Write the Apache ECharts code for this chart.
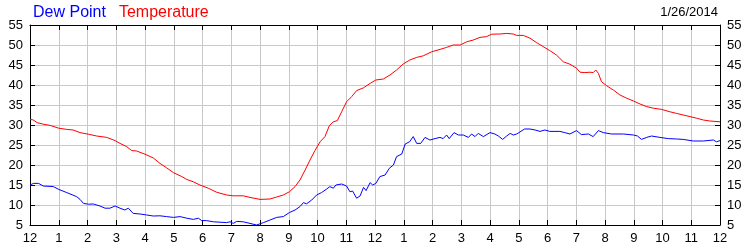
<!DOCTYPE html>
<html>
<head>
<meta charset="utf-8">
<script src="https://cdn.jsdelivr.net/npm/echarts@6/dist/echarts.min.js"></script>
<style>html,body{margin:0;padding:0;background:#fff}#c{width:750px;height:250px}</style>
</head>
<body>
<div id="c"></div>
<script>
var seriesNames = ['Dew Point', 'Temperature'];
var dateLabel = '1/26/2014';
var hourTicks = ['12','1','2','3','4','5','6','7','8','9','10','11','12','1','2','3','4','5','6','7','8','9','10','11','12'];

var tempHours = [0.0,0.1,0.25,0.46,0.7,1.0,1.28,1.5,1.74,2.03,2.32,2.67,2.96,3.13,3.36,3.54,3.71,4.0,4.29,4.52,4.75,4.99,5.28,5.45,5.68,5.91,6.2,6.49,6.84,7.07,7.42,7.65,8.0,8.35,8.58,8.81,9.02,9.22,9.39,9.57,9.74,9.91,10.09,10.26,10.41,10.55,10.69,10.84,11.01,11.19,11.36,11.6,11.83,12.03,12.29,12.52,12.75,12.98,13.21,13.45,13.68,13.97,14.26,14.49,14.72,14.96,15.19,15.42,15.65,15.88,16.06,16.35,16.58,16.81,16.93,17.16,17.39,17.62,17.85,18.08,18.31,18.55,18.78,19.01,19.13,19.3,19.48,19.59,19.68,19.77,19.88,20.06,20.29,20.52,20.75,20.99,21.22,21.45,21.68,21.97,22.26,22.49,22.72,22.96,23.19,23.42,23.65,24.0];
var tempValues = [31.4,31.3,30.6,30.2,29.9,29.2,28.9,28.75,28.1,27.7,27.25,26.9,26.1,25.4,24.6,23.6,23.5,22.7,21.75,20.4,19.3,18.1,17.1,16.4,15.8,15.0,14.2,13.2,12.5,12.3,12.3,11.9,11.4,11.5,12.0,12.5,13.3,14.6,16.25,18.75,21.25,23.6,25.8,27.1,29.8,30.8,31.1,33.3,35.8,37.1,38.6,39.3,40.4,41.25,41.5,42.5,43.75,45.25,46.25,46.9,47.3,48.3,48.9,49.4,50.0,50.0,50.8,51.25,51.9,52.1,52.7,52.75,52.9,52.75,52.4,52.4,51.7,50.6,49.6,48.6,47.5,45.8,45.2,44.2,43.2,43.1,43.2,43.1,43.75,42.9,40.8,39.8,38.75,37.5,36.7,36.0,35.25,34.6,34.2,33.9,33.3,32.9,32.5,32.1,31.7,31.25,31.0,30.8];

var dewHours = [0.0,0.12,0.3,0.46,0.81,1.0,1.28,1.62,1.74,1.86,2.03,2.2,2.43,2.61,2.78,2.96,3.13,3.3,3.42,3.59,3.83,4.06,4.29,4.52,4.75,4.99,5.22,5.45,5.68,5.86,5.97,6.14,6.38,6.61,6.84,6.96,7.07,7.19,7.42,7.65,7.88,8.12,8.35,8.58,8.81,9.02,9.22,9.39,9.51,9.62,9.8,9.97,10.14,10.32,10.43,10.55,10.64,10.84,11.01,11.13,11.22,11.36,11.48,11.6,11.69,11.83,11.92,12.03,12.17,12.35,12.5,12.64,12.75,12.93,13.05,13.2,13.33,13.45,13.59,13.74,13.91,14.09,14.26,14.37,14.49,14.58,14.75,14.9,15.07,15.25,15.36,15.48,15.59,15.77,16.0,16.17,16.29,16.44,16.58,16.7,16.81,16.93,17.2,17.39,17.57,17.74,17.91,18.08,18.43,18.6,18.78,19.01,19.18,19.42,19.59,19.77,19.94,20.23,20.64,20.99,21.13,21.27,21.45,21.62,21.91,22.2,22.49,22.72,23.07,23.42,23.77,23.88,24.0];
var dewValues = [15.0,15.4,15.4,14.75,14.6,13.9,13.1,12.1,11.4,10.4,10.2,10.25,9.75,9.2,9.2,9.75,9.2,8.75,9.2,7.9,7.75,7.5,7.25,7.3,7.1,6.9,7.1,6.7,6.4,6.7,6.1,6.1,5.8,5.7,5.6,5.8,5.4,5.9,5.8,5.4,5.0,5.6,6.25,6.9,7.1,8.1,8.75,9.6,10.6,10.3,11.25,12.5,13.1,14.0,14.6,14.2,15.0,15.25,14.75,13.3,13.5,11.7,12.25,14.4,13.6,15.6,15.0,15.4,17.1,17.5,19.2,20.0,22.1,22.75,25.25,25.8,27.1,25.4,25.4,26.9,26.25,26.6,26.9,26.6,27.5,26.6,28.1,27.5,27.5,26.9,27.75,27.1,27.9,27.1,28.1,27.75,27.25,26.4,27.25,27.9,27.5,27.75,29.0,29.0,28.75,28.4,28.75,28.4,28.4,28.1,27.75,28.6,27.6,27.75,27.1,28.6,28.1,27.75,27.75,27.5,27.25,26.4,26.9,27.25,26.9,26.6,26.5,26.4,26.0,26.0,26.25,25.8,26.1];

function pairs(xs, ys) { return xs.map(function (x, i) { return [x, ys[i]]; }); }

var FONT = "'Liberation Sans', Arial, sans-serif";
var chart = echarts.init(document.getElementById('c'), null, { renderer: 'canvas' });
var axisLine = { show: true, onZero: false, lineStyle: { color: '#000', width: 1 } };
var tick = { show: true, inside: true, length: 5, lineStyle: { color: '#000', width: 1 } };
var grid = { show: true, lineStyle: { color: '#c8c8c8', width: 1 } };

chart.setOption({
  animation: false,
  backgroundColor: '#fff',
  textStyle: { fontFamily: FONT },
  grid: { left: 30, right: 30, top: 25, bottom: 25, containLabel: false },
  legend: {
    left: 28, top: 5, icon: 'none', itemWidth: 0, itemHeight: 10, itemGap: 8, padding: 0,
    selectedMode: false,
    data: [
      { name: seriesNames[0], textStyle: { color: '#0000ff' } },
      { name: seriesNames[1], textStyle: { color: '#ff0000' } }
    ],
    textStyle: { fontSize: 16, fontFamily: FONT, padding: 0 }
  },
  graphic: [{
    type: 'text', right: 32, top: 6,
    style: { text: dateLabel, font: "13px " + FONT, fill: '#000' }
  }],
  xAxis: [{
    type: 'value', min: 0, max: 24, interval: 1, position: 'bottom',
    axisLine: axisLine, axisTick: tick, splitLine: grid,
    axisLabel: { color: '#000', fontSize: 13, margin: 7, fontFamily: FONT,
      showMinLabel: true, showMaxLabel: true,
      formatter: function (v) { return hourTicks[Math.round(v)]; } }
  }, {
    type: 'value', min: 0, max: 24, interval: 1, position: 'top',
    axisLine: axisLine, axisTick: tick, splitLine: { show: false }, axisLabel: { show: false }
  }],
  yAxis: [{
    type: 'value', min: 5, max: 55, interval: 5, position: 'left',
    axisLine: axisLine, axisTick: tick, splitLine: grid,
    axisLabel: { color: '#000', fontSize: 13, margin: 7, fontFamily: FONT }
  }, {
    type: 'value', min: 5, max: 55, interval: 5, position: 'right',
    axisLine: axisLine, axisTick: tick, splitLine: { show: false },
    axisLabel: { color: '#000', fontSize: 13, margin: 7, fontFamily: FONT }
  }],
  series: [{
    name: seriesNames[0], type: 'line', data: pairs(dewHours, dewValues),
    showSymbol: false, symbol: 'none', lineStyle: { color: '#0000ff', width: 1 }, itemStyle: { color: '#0000ff' }
  }, {
    name: seriesNames[1], type: 'line', data: pairs(tempHours, tempValues),
    showSymbol: false, symbol: 'none', lineStyle: { color: '#ff0000', width: 1 }, itemStyle: { color: '#ff0000' }
  }]
});
</script>
</body>
</html>
